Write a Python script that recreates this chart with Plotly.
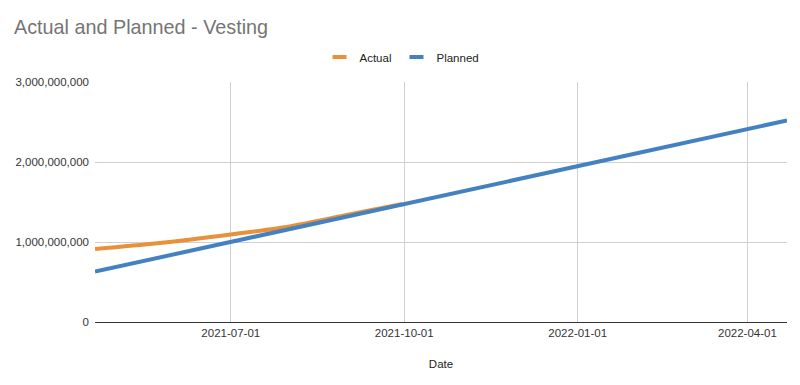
import plotly.graph_objects as go

actual_dates = ["2021-04-20", "2021-05-23", "2021-07-01", "2021-08-02", "2021-09-05", "2021-09-30"]
actual_values = [912e6, 984e6, 1095e6, 1198e6, 1360e6, 1476e6]

planned_dates = ["2021-04-20", "2021-07-01", "2021-10-01", "2022-01-01", "2022-04-22"]
planned_values = [630e6, 1000e6, 1474e6, 1946e6, 2520e6]

x_ticks = ["2021-07-01", "2021-10-01", "2022-01-01", "2022-04-01"]
y_ticks = [0, 1e9, 2e9, 3e9]

series = [("Actual", actual_dates, actual_values, "#e8913a", "spline"),
          ("Planned", planned_dates, planned_values, "#4381c1", "linear")]

fig = go.Figure()
for name, xs, ys, color, shape in series:
    fig.add_trace(go.Scatter(x=xs, y=ys, name=name, mode="lines", legendgroup=name,
                             showlegend=False,
                             line=dict(color=color, width=4, shape=shape, smoothing=0.8)))
for name, xs, ys, color, shape in series:
    fig.add_trace(go.Scatter(x=[None], y=[None], name=name, mode="markers", legendgroup=name,
                             marker=dict(symbol="line-ew", size=10,
                                         line=dict(color=color, width=4))))

fig.update_layout(
    width=800, height=385,
    margin=dict(l=87, r=21, t=74, b=71, autoexpand=False),
    paper_bgcolor="white", plot_bgcolor="white",
    font=dict(family="Liberation Sans, Arial, sans-serif", size=12, color="#222"),
    title=dict(text="Actual and Planned - Vesting", x=6/800, xref="container", xanchor="left",
               y=1-19/385, yref="container", yanchor="middle",
               font=dict(size=19.8, color="#757575")),
    legend=dict(orientation="h", xref="paper", x=(394-87)/692, xanchor="center",
                y=1.104, yanchor="middle",
                font=dict(size=11.5, color="#222"), itemwidth=30),
    showlegend=True,
)
fig.update_xaxes(
    range=["2021-04-20", "2022-04-22"],
    tickvals=x_ticks, ticktext=x_ticks,
    showgrid=True, gridcolor="#d0d0d0", gridwidth=1,
    showline=True, linecolor="#333", linewidth=1,
    ticks="", tickfont=dict(size=11.5, color="#333"),
    title=dict(text="Date", font=dict(size=11.5, color="#222"), standoff=22),
    automargin=False,
)
fig.update_yaxes(
    range=[0, 3e9],
    tickvals=y_ticks, tickformat=",d",
    showgrid=True, gridcolor="#d0d0d0", gridwidth=1,
    zeroline=False, ticks="", ticklen=0, ticklabelstandoff=5,
    tickfont=dict(size=11.5, color="#333"),
    automargin=False,
)

fig.write_html("out.html")
